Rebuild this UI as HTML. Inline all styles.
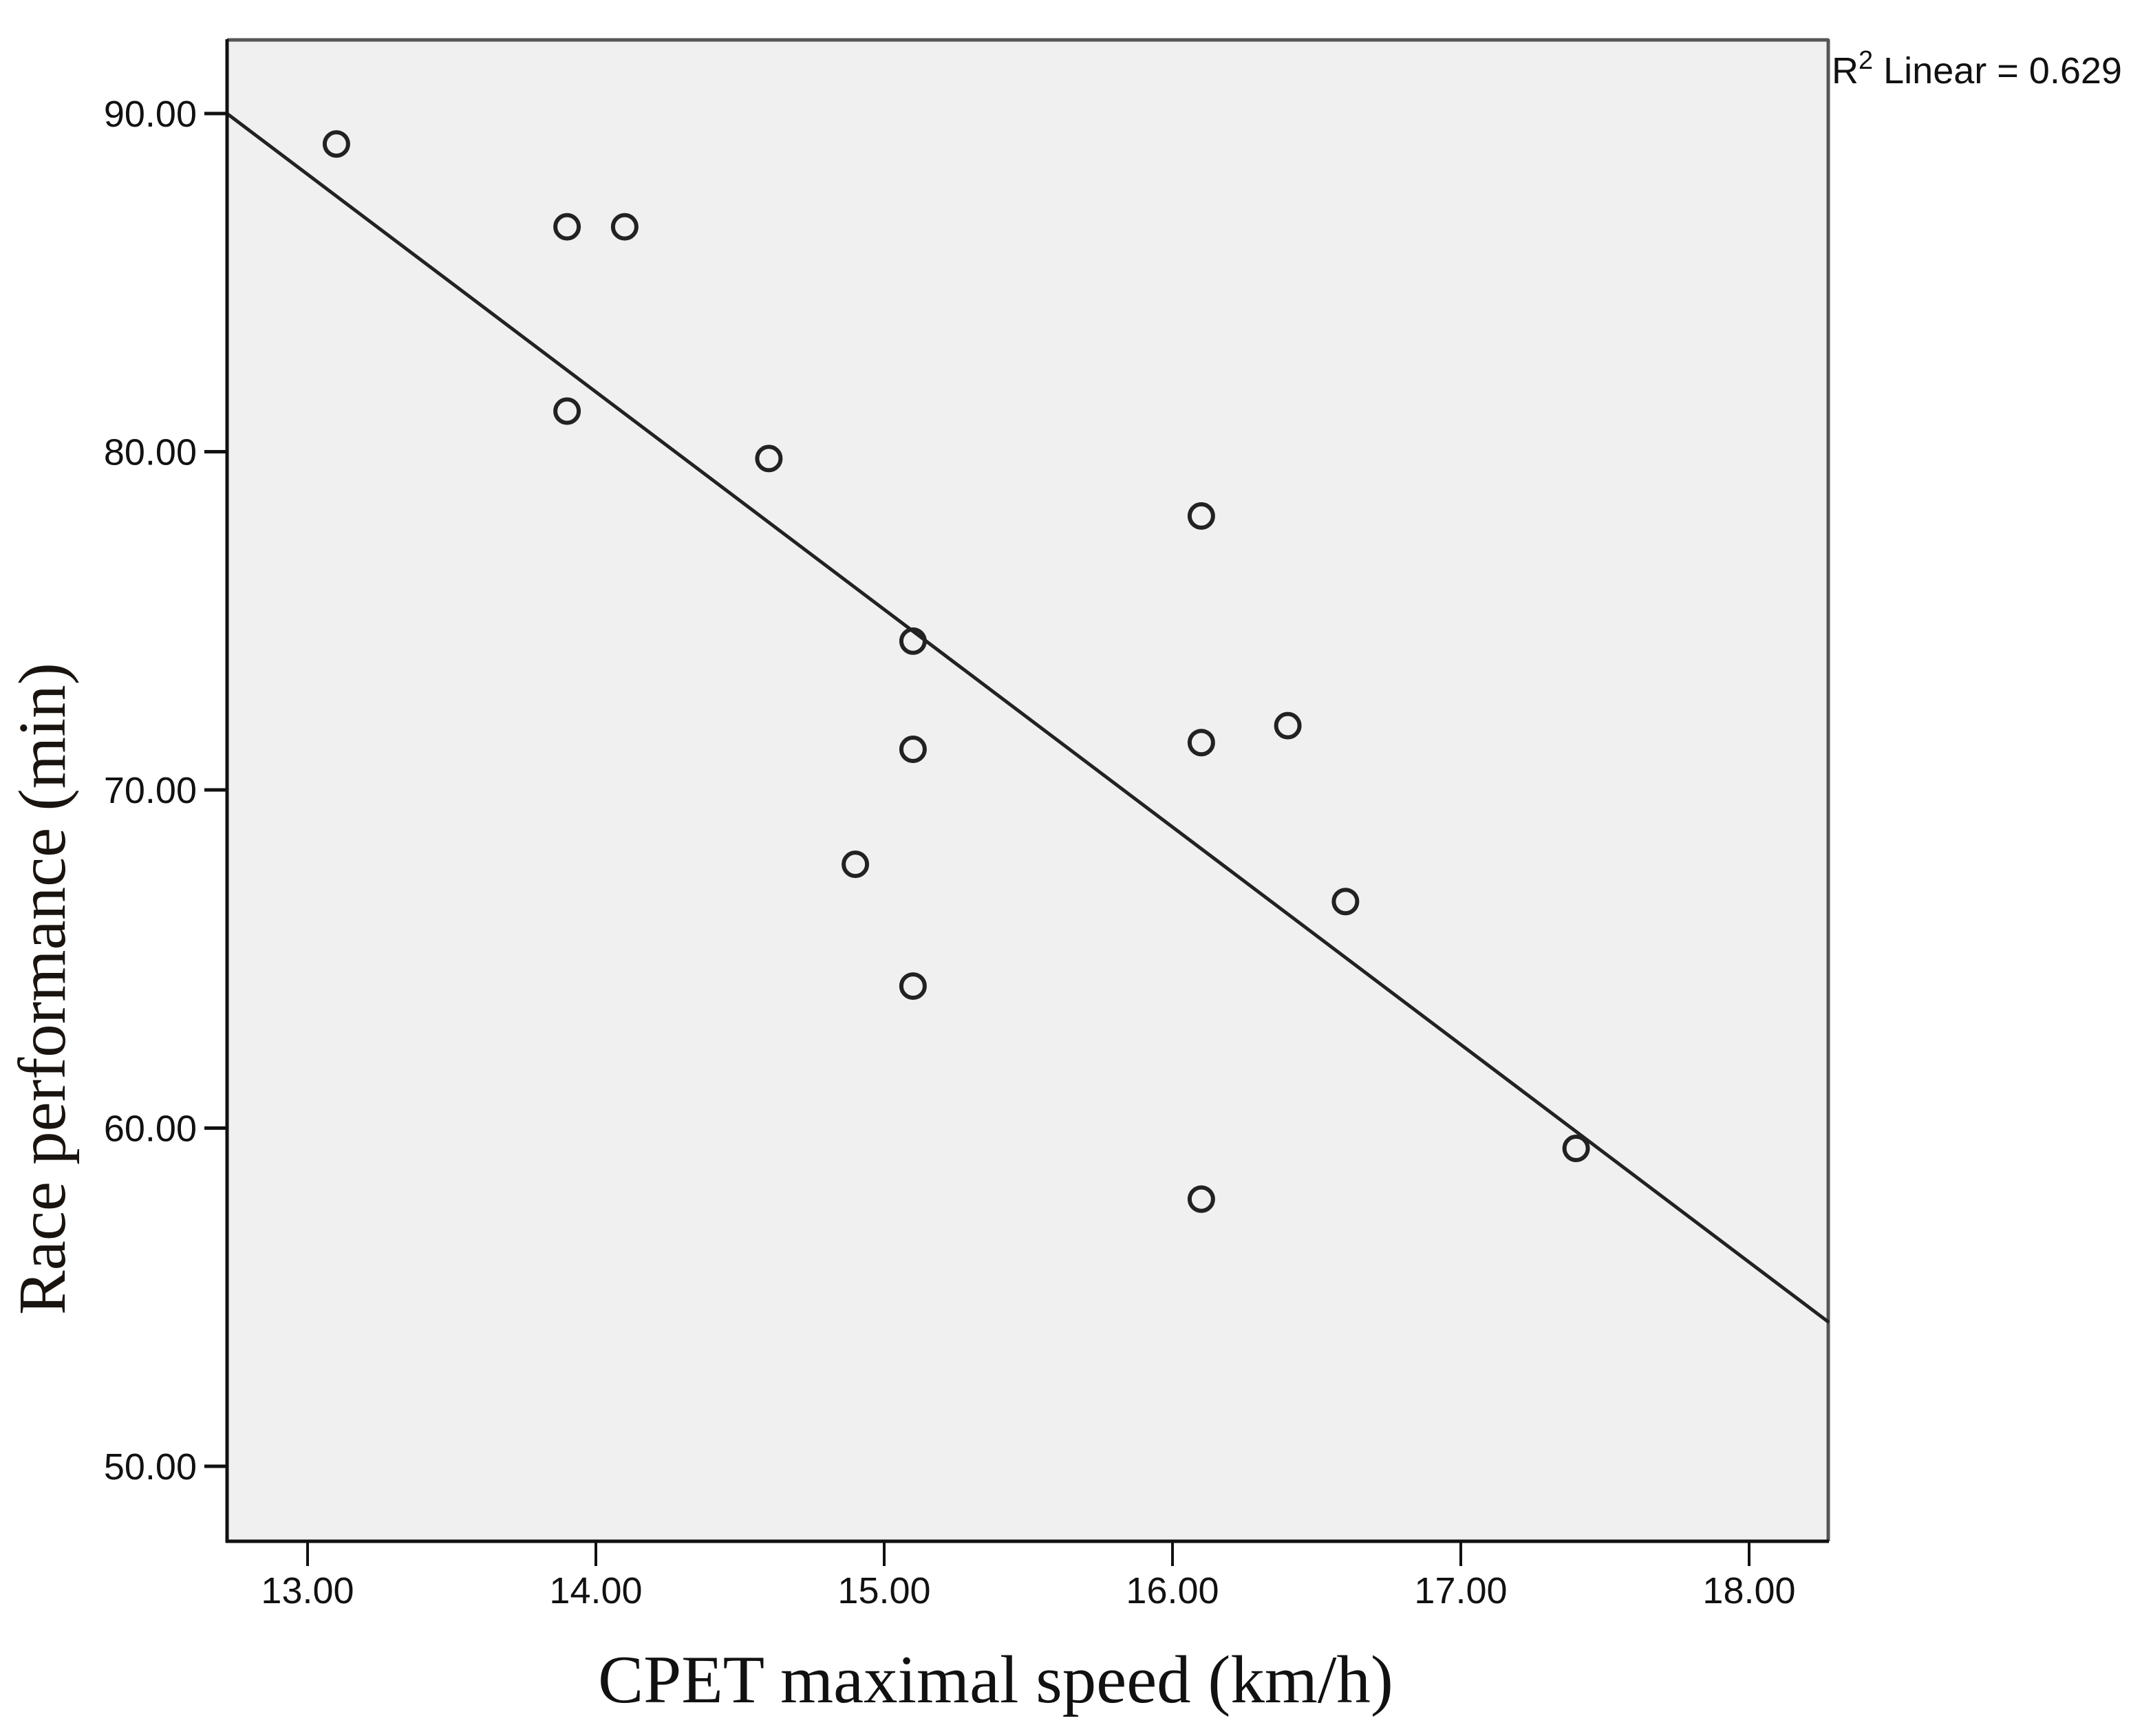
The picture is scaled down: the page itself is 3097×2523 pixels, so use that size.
<!DOCTYPE html>
<html><head><meta charset="utf-8"><style>
html,body{margin:0;padding:0;background:#fff;}
svg{display:block;}
</style></head><body>
<svg id="chart" width="3097" height="2523" viewBox="0 0 3097 2523" xmlns="http://www.w3.org/2000/svg">
<rect x="330" y="57" width="2328" height="2183" fill="#f0f0f0"/>
<line x1="330" y1="58" x2="2658" y2="58" stroke="#555" stroke-width="5"/>
<line x1="2657" y1="57" x2="2657" y2="2240" stroke="#555" stroke-width="5"/>
<g id="fitg"></g>
<g id="pts"></g>
<line x1="330" y1="57" x2="330" y2="2242" stroke="#111" stroke-width="5"/>
<line x1="328" y1="2240" x2="2658" y2="2240" stroke="#111" stroke-width="5"/>
<g id="yt"></g>
<g id="xt"></g>
<text x="1447" y="2474" text-anchor="middle" font-family="'Liberation Serif',serif" font-size="99" fill="#111">CPET maximal speed (km/h)</text>
<text transform="translate(94,1437) rotate(-90)" text-anchor="middle" font-family="'Liberation Serif',serif" font-size="97" fill="#1a1410">Race performance (min)</text>
<text x="2662" y="121" font-family="'Liberation Sans',sans-serif" font-size="54" fill="#111">R<tspan dy="-21" font-size="38">2</tspan><tspan dy="21"> Linear = 0.629</tspan></text>
</svg>
<script>
const speedX = [13.1,13.9,14.1,13.9,14.6,16.1,15.1,15.1,16.1,16.4,14.9,16.6,15.1,17.4,16.1];
const raceY = [89.1,86.65,86.65,81.2,79.8,78.1,74.4,71.2,71.4,71.9,67.8,66.7,64.2,59.4,57.9];
const fitCoef = [171.83,-6.433];
const xTicks = [13,14,15,16,17,18];
const yTicks = [50,60,70,80,90];
const xDomain = [12.72,18.277];

const NS='http://www.w3.org/2000/svg';
function sx(v){return 447+(v-13)*419;}
function sy(v){return 2131-(v-50)*49.15;}
function mk(t,a,p){const e=document.createElementNS(NS,t);for(const k in a)e.setAttribute(k,a[k]);p.appendChild(e);return e;}

const fitg=document.getElementById('fitg');
const ln=mk('line',{x1:sx(xDomain[0]),y1:sy(fitCoef[0]+fitCoef[1]*xDomain[0]),x2:sx(xDomain[1]),y2:sy(fitCoef[0]+fitCoef[1]*xDomain[1]),stroke:'#222','stroke-width':5},fitg);



const pts=document.getElementById('pts');
speedX.forEach((x,i)=>{
  const c=mk('circle',{cx:sx(x),cy:sy(raceY[i]),r:17,fill:'none',stroke:'#222','stroke-width':6},pts);
  
  
});

const yt=document.getElementById('yt');
yTicks.forEach(v=>{
  const t=mk('line',{x1:297,y1:sy(v),x2:330,y2:sy(v),stroke:'#111','stroke-width':5},yt);
  
  
  const l=mk('text',{x:286,y:sy(v)+19,'text-anchor':'end','font-family':"'Liberation Sans',sans-serif",'font-size':54,fill:'#111'},yt);
  l.textContent=v.toFixed(2);
  
  
});
const xt=document.getElementById('xt');
xTicks.forEach(v=>{
  const t=mk('line',{x1:sx(v),y1:2240,x2:sx(v),y2:2276,stroke:'#111','stroke-width':4},xt);
  
  
  const l=mk('text',{x:sx(v),y:2330,'text-anchor':'middle','font-family':"'Liberation Sans',sans-serif",'font-size':54,fill:'#111'},xt);
  l.textContent=v.toFixed(2);
  
  
});
</script>
</body></html>
